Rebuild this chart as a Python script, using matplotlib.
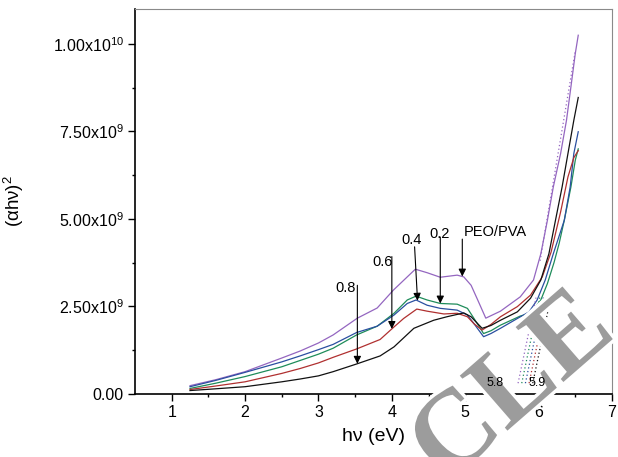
import numpy as np
import matplotlib
matplotlib.use('Agg')
import matplotlib.pyplot as plt
import matplotlib.patheffects as pe

plt.rcParams['font.family'] = ['Liberation Sans', 'DejaVu Sans']
plt.rcParams['mathtext.fontset'] = 'custom'
plt.rcParams['mathtext.rm'] = 'Liberation Sans'
plt.rcParams['mathtext.it'] = 'Liberation Sans:italic'

# values, y in units of 1e9
x_pure = [1.25, 1.6, 2.0, 2.5, 2.75, 3.0, 3.2, 3.53, 3.8, 4.02, 4.32, 4.48, 4.66, 4.89, 4.98,
          5.08, 5.17, 5.28, 5.48, 5.75, 5.93, 6.03, 6.12, 6.2, 6.3, 6.38, 6.44, 6.5, 6.54]
y_pure = [0.23, 0.4, 0.63, 1.02, 1.22, 1.45, 1.68, 2.16, 2.45, 2.96, 3.56, 3.46, 3.33, 3.39, 3.34,
          3.1, 2.68, 2.16, 2.36, 2.77, 3.25, 4.0, 4.96, 5.91, 6.87, 7.82, 8.77, 9.73, 10.25]

x_02 = [1.25, 1.6, 2.0, 2.5, 2.75, 3.0, 3.2, 3.52, 3.8, 4.03, 4.21, 4.33, 4.48, 4.66, 4.89, 5.03,
        5.12, 5.25, 5.35, 5.48, 5.75, 5.89, 6.03, 6.12, 6.21, 6.28, 6.35, 6.44, 6.5, 6.54]
y_02 = [0.15, 0.3, 0.49, 0.77, 0.95, 1.13, 1.3, 1.68, 1.93, 2.3, 2.68, 2.79, 2.68, 2.58, 2.56, 2.44,
        2.15, 1.72, 1.8, 1.96, 2.22, 2.3, 2.68, 3.15, 3.75, 4.3, 4.96, 5.91, 6.68, 7.0]

x_04 = [1.25, 1.6, 2.0, 2.5, 2.75, 3.0, 3.2, 3.52, 3.8, 4.03, 4.21, 4.33, 4.48, 4.66, 4.89, 5.03,
        5.12, 5.25, 5.35, 5.48, 5.71, 5.87, 5.98, 6.09, 6.2, 6.35, 6.43, 6.48, 6.54]
y_04 = [0.2, 0.38, 0.61, 0.91, 1.08, 1.26, 1.41, 1.75, 1.93, 2.25, 2.58, 2.68, 2.53, 2.44, 2.39, 2.25,
        2.0, 1.63, 1.72, 1.87, 2.15, 2.34, 2.68, 3.25, 4.0, 4.96, 5.91, 6.87, 7.49]

x_06 = [1.25, 1.6, 2.0, 2.5, 2.75, 3.0, 3.2, 3.52, 3.84, 4.03, 4.16, 4.34, 4.48, 4.71, 4.89, 5.03,
        5.12, 5.23, 5.35, 5.48, 5.71, 5.89, 6.05, 6.17, 6.3, 6.4, 6.48, 6.54]
y_06 = [0.12, 0.22, 0.34, 0.58, 0.72, 0.88, 1.04, 1.28, 1.55, 1.91, 2.15, 2.42, 2.36, 2.28, 2.3, 2.2,
        2.0, 1.82, 1.98, 2.2, 2.49, 2.82, 3.34, 4.05, 5.2, 6.2, 6.75, 6.95]

x_08 = [1.25, 1.6, 2.0, 2.5, 2.75, 3.0, 3.2, 3.52, 3.84, 4.03, 4.3, 4.57, 4.75, 4.98, 5.08, 5.23,
        5.35, 5.48, 5.71, 5.89, 6.03, 6.14, 6.23, 6.32, 6.4, 6.48, 6.54]
y_08 = [0.09, 0.14, 0.2, 0.34, 0.42, 0.51, 0.63, 0.85, 1.08, 1.34, 1.87, 2.1, 2.2, 2.31, 2.2, 1.87,
        1.95, 2.1, 2.34, 2.73, 3.25, 4.0, 4.96, 5.91, 6.87, 7.82, 8.47]

names = ['PEO/PVA', '0.2', '0.4', '0.6', '0.8']
series_x = [x_pure, x_02, x_04, x_06, x_08]
series_y = [y_pure, y_02, y_04, y_06, y_08]
colors = ['#9466c0', '#1e8c5a', '#2a4fa0', '#b03030', '#111111']

# extrapolated band-edge lines (dotted), y in 1e9
fit_x_bot = [5.72, 5.77, 5.82, 5.87, 5.92]
fit_x_top = [5.97, 6.02, 6.07, 6.12, 6.17]
fit_y_bot = 0.3
fit_y_top = 2.8
gap_labels = ['5.8', '5.9']

y_ticks = [0, 2.5, 5.0, 7.5, 10.0]
y_tick_labels = ['0.00', r'2.50x10$^{9}$', r'5.00x10$^{9}$', r'7.50x10$^{9}$', r'1.00x10$^{10}$']
x_ticks = [1, 2, 3, 4, 5, 6, 7]

fig = plt.figure(figsize=(6.18, 4.57), dpi=100)
ax = fig.add_axes([135 / 618, 1 - 393.7 / 457, 477 / 618, 384.7 / 457])

for xs, ys, c in zip(series_x, series_y, colors):
    ax.plot(np.array(xs), np.array(ys) * 1e9, color=c, lw=0.9)

for xb, xt, c in zip(fit_x_bot, fit_x_top, colors):
    ax.plot([xb, xt], [fit_y_bot * 1e9, fit_y_top * 1e9], color=c, lw=0.9, ls=(0, (1, 2)))
# long tangent along the pure film edge
ax.plot([6.02, 6.5], [3.8e9, 9.8e9], color=colors[0], lw=0.9, ls=(0, (1, 2)))

ax.text(5.4, 0.3e9, gap_labels[0], fontsize=9, ha='center', va='center', zorder=7)
ax.text(5.98, 0.3e9, gap_labels[1], fontsize=9, ha='center', va='center', zorder=7)

# labels with arrows: (text x, text y, ha, arrow x0, arrow y0, arrow x1)
notes = [(4.98, 4.63, 'left', 4.96, 4.42, 4.96),
         (4.65, 4.56, 'center', 4.66, 4.48, 4.66),
         (4.27, 4.39, 'center', 4.31, 4.2, 4.35),
         (3.87, 3.77, 'center', 4.0, 3.92, 4.0),
         (3.37, 3.03, 'center', 3.53, 3.1, 3.53)]
for name, xs, ys, (tx, ty, ha, x0, y0, x1) in zip(names, series_x, series_y, notes):
    ax.text(tx, ty * 1e9, name, fontsize=10.5, ha=ha, va='center')
    y1 = np.interp(x1, xs, ys)
    ax.annotate('', xy=(x1, y1 * 1e9), xytext=(x0, y0 * 1e9),
                arrowprops=dict(arrowstyle='-|>', color='k', lw=0.8,
                                mutation_scale=11, shrinkA=0, shrinkB=0))

ax.set_xlim(0.5, 7)
ax.set_ylim(0, 1.1e10)
ax.set_xticks(x_ticks)
ax.set_xticks([1.5, 2.5, 3.5, 4.5, 5.5, 6.5], minor=True)
ax.set_yticks([v * 1e9 for v in y_ticks])
ax.set_yticklabels(y_tick_labels)
ax.set_yticks([1.25e9, 3.75e9, 6.25e9, 8.75e9], minor=True)
ax.tick_params(which='major', direction='out', length=5, width=1, labelsize=11.5, pad=3)
ax.tick_params(which='minor', direction='out', length=2.5, width=1)
ax.tick_params(top=False, right=False)

for s in ['left', 'bottom']:
    ax.spines[s].set_linewidth(1.2)
    ax.spines[s].set_color('black')
for s in ['top', 'right']:
    ax.spines[s].set_linewidth(0.8)
    ax.spines[s].set_color('#8a8a8a')

ax.set_xlabel('hν (eV)', fontsize=14, labelpad=6)
ax.set_ylabel('(αhν)$^{2}$', fontsize=13.5)
ax.yaxis.set_label_coords(-(135 - 26) / 477, 0.5)

# watermark, drawn in the axes so the gap labels can sit above it
ax.text(1.0, 0.268, 'CLE', fontsize=80, family='Liberation Serif', weight='bold',
        color='#9c9c9c', rotation=41, rotation_mode='anchor', ha='right', va='baseline',
        transform=fig.transFigure, clip_on=False, zorder=6,
        path_effects=[pe.withStroke(linewidth=5, foreground='white')])

fig.savefig('out.png', dpi=100)
